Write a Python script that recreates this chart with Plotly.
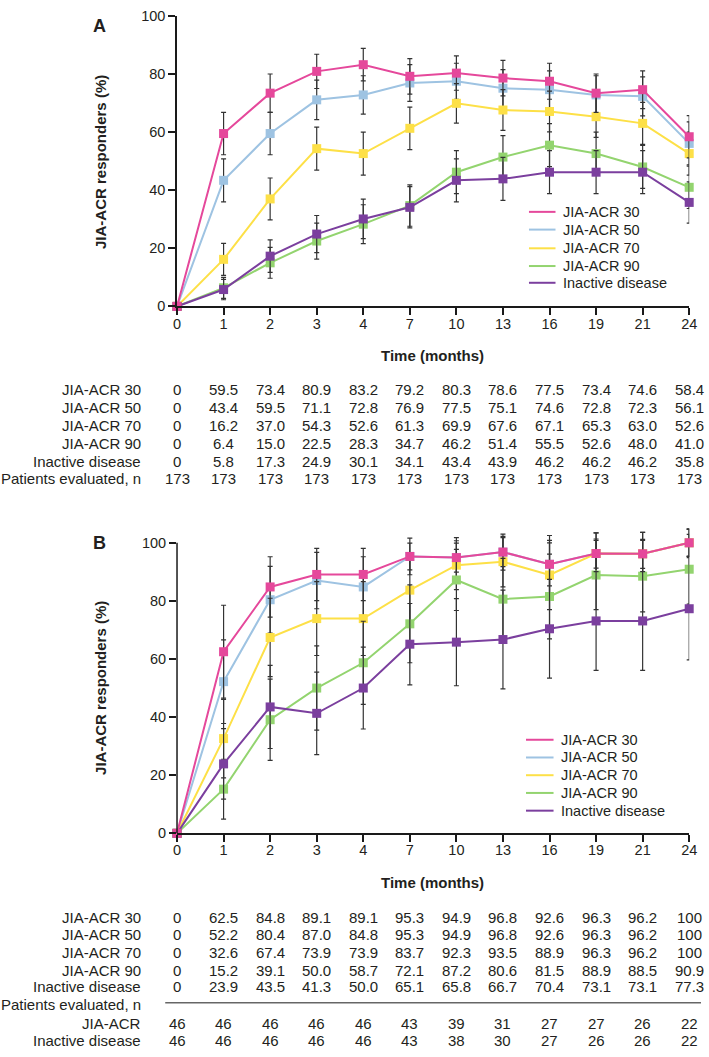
import plotly.graph_objects as go

W, H = 709, 1057

months = [0, 1, 2, 3, 4, 7, 10, 13, 16, 19, 21, 24]
series_names = ["JIA-ACR 30", "JIA-ACR 50", "JIA-ACR 70", "JIA-ACR 90", "Inactive disease"]
colors = ["#E5489B", "#9EC3E2", "#FDE047", "#93D46F", "#7B3F9E"]

# Panel A values (%)
a_acr30 = [0, 59.5, 73.4, 80.9, 83.2, 79.2, 80.3, 78.6, 77.5, 73.4, 74.6, 58.4]
a_acr50 = [0, 43.4, 59.5, 71.1, 72.8, 76.9, 77.5, 75.1, 74.6, 72.8, 72.3, 56.1]
a_acr70 = [0, 16.2, 37.0, 54.3, 52.6, 61.3, 69.9, 67.6, 67.1, 65.3, 63.0, 52.6]
a_acr90 = [0, 6.4, 15.0, 22.5, 28.3, 34.7, 46.2, 51.4, 55.5, 52.6, 48.0, 41.0]
a_inact = [0, 5.8, 17.3, 24.9, 30.1, 34.1, 43.4, 43.9, 46.2, 46.2, 46.2, 35.8]
a_n = [173, 173, 173, 173, 173, 173, 173, 173, 173, 173, 173, 173]

# Panel A error bar half-widths
a_err30 = [0, 7.3, 6.6, 5.9, 5.6, 6.1, 5.9, 6.1, 6.2, 6.6, 6.5, 7.3]
a_err50 = [0, 7.4, 7.3, 6.8, 6.6, 6.3, 6.2, 6.4, 6.5, 6.6, 6.7, 7.4]
a_err70 = [0, 5.5, 7.2, 7.4, 7.4, 7.3, 6.8, 7.0, 7.0, 7.1, 7.2, 7.4]
a_err90 = [0, 3.6, 5.3, 6.2, 6.7, 7.1, 7.4, 7.4, 7.4, 7.4, 7.4, 7.3]
a_errin = [0, 3.5, 5.6, 6.4, 6.8, 7.1, 7.4, 7.4, 7.4, 7.4, 7.4, 7.1]

# Panel B values (%)
b_acr30 = [0, 62.5, 84.8, 89.1, 89.1, 95.3, 94.9, 96.8, 92.6, 96.3, 96.2, 100]
b_acr50 = [0, 52.2, 80.4, 87.0, 84.8, 95.3, 94.9, 96.8, 92.6, 96.3, 96.2, 100]
b_acr70 = [0, 32.6, 67.4, 73.9, 73.9, 83.7, 92.3, 93.5, 88.9, 96.3, 96.2, 100]
b_acr90 = [0, 15.2, 39.1, 50.0, 58.7, 72.1, 87.2, 80.6, 81.5, 88.9, 88.5, 90.9]
b_inact = [0, 23.9, 43.5, 41.3, 50.0, 65.1, 65.8, 66.7, 70.4, 73.1, 73.1, 77.3]
b_n_acr = [46, 46, 46, 46, 46, 43, 39, 31, 27, 27, 26, 22]
b_n_inact = [46, 46, 46, 46, 46, 43, 38, 30, 27, 26, 26, 22]

# Panel B error bar half-widths
b_err30 = [0, 16.0, 10.4, 9.0, 9.0, 4.6, 5.0, 5.0, 7.4, 5.0, 5.0, 4.7]
b_err50 = [0, 14.4, 11.5, 9.7, 10.4, 6.3, 6.9, 6.2, 9.9, 7.1, 7.4, 4.7]
b_err70 = [0, 13.5, 13.5, 12.7, 12.7, 11.0, 8.4, 8.7, 11.9, 7.1, 7.4, 4.7]
b_err90 = [0, 10.3, 14.0, 14.5, 14.3, 13.4, 10.5, 14.0, 14.6, 11.9, 12.3, 12.0]
b_errin = [0, 12.1, 14.3, 14.2, 14.1, 14.0, 15.0, 17.0, 17.0, 17.0, 17.0, 17.6]

a_vals = [a_acr30, a_acr50, a_acr70, a_acr90, a_inact]
a_errs = [a_err30, a_err50, a_err70, a_err90, a_errin]
b_vals = [b_acr30, b_acr50, b_acr70, b_acr90, b_inact]
b_errs = [b_err30, b_err50, b_err70, b_err90, b_errin]

cats = [str(m) for m in months]
FONT = "Liberation Sans, Arial, sans-serif"
TXT = "#231F20"
AX = "#1a1a1a"

def py(p):
    return 1 - p / H

fig = go.Figure()

draw_order = [1, 2, 3, 4, 0]
for vals, errs, xa, ya in [(a_vals, a_errs, "x", "y"), (b_vals, b_errs, "x2", "y2")]:
    for i in draw_order:
        fig.add_trace(go.Scatter(
            x=cats, y=vals[i], xaxis=xa, yaxis=ya, name=series_names[i],
            mode="lines+markers", showlegend=False,
            line=dict(color=colors[i], width=2),
            marker=dict(symbol="square", size=9, color=colors[i]),
            error_y=dict(type="data", array=errs[i], symmetric=True,
                         color="#333333", thickness=1.2, width=2.5),
            cliponaxis=False,
        ))

x_dom = [176 / W, 697 / W]
axis_common = dict(linecolor=AX, linewidth=1.5,
                   ticks="outside", tickcolor=AX, ticklen=7, tickwidth=1.5,
                   showgrid=False, zeroline=False,
                   tickfont=dict(family=FONT, size=14.5, color=TXT))

# panel B y-range extends a little above 100 so the upper error bars are not cut;
# its axis line is drawn only from 0 to 100 (as in the original)
b_top = 106
b_px0, b_px100 = 838, 543
b_pxtop = b_px0 - (b_px0 - b_px100) * b_top / 100

fig.update_layout(
    width=W, height=H, margin=dict(l=0, r=0, t=0, b=0),
    plot_bgcolor="white", paper_bgcolor="white",
    font=dict(family=FONT, color=TXT), showlegend=False,
    xaxis=dict(domain=x_dom, anchor="y", type="category", range=[0, len(months) - 1],
               showline=True, ticklabelstandoff=-4, **axis_common),
    yaxis=dict(domain=[py(303), py(8)], anchor="x", range=[0, 100], showline=True,
               tickvals=[0, 20, 40, 60, 80, 100], **axis_common),
    xaxis2=dict(domain=x_dom, anchor="y2", type="category", range=[0, len(months) - 1],
                showline=True, ticklabelstandoff=-4, **axis_common),
    yaxis2=dict(domain=[py(b_px0), py(b_pxtop)], anchor="x2", range=[0, b_top], showline=False,
                tickvals=[0, 20, 40, 60, 80, 100], **axis_common),
)

shapes = []
ann = []

def add_text(text, x, y, xref="paper", xanchor="center", size=15, bold=False, angle=0):
    ann.append(dict(text=f"<b>{text}</b>" if bold else text, x=x, y=y, xref=xref, yref="paper",
                    xanchor=xanchor, yanchor="middle", showarrow=False, textangle=angle,
                    font=dict(family=FONT, size=size, color=TXT)))

# y axis line of panel B (0..100)
shapes.append(dict(type="line", xref="paper", yref="y2", x0=x_dom[0], x1=x_dom[0], y0=0, y1=100,
                   line=dict(color=AX, width=1.5)))

# legends (line samples + labels)
for rows_y, x0, x1, xt in [([207, 225, 244, 262, 279], 534, 561, 567),
                          ([743, 761, 779, 797, 815], 531, 559, 565)]:
    for i, name in enumerate(series_names):
        shapes.append(dict(type="line", xref="paper", yref="paper", x0=x0 / W, x1=x1 / W,
                           y0=py(rows_y[i]), y1=py(rows_y[i]),
                           line=dict(color=colors[i], width=2)))
        add_text(name, xt / W, py(rows_y[i]), xanchor="left", size=14.5)

# panel labels and titles
add_text("A", 97 / W, py(18), size=18, bold=True)
add_text("B", 97 / W, py(543), size=18, bold=True)
add_text("JIA-ACR responders (%)", 98 / W, py(156), bold=True, angle=-90)
add_text("JIA-ACR responders (%)", 98 / W, py(690), bold=True, angle=-90)
add_text("Time (months)", 436 / W, py(353), bold=True)
add_text("Time (months)", 436 / W, py(888), bold=True)

def fmt(v):
    if v == 0:
        return "0"
    if v == 100:
        return "100"
    return f"{v:.1f}"

# Table A
rows_a_y = [387, 406, 424, 442, 460]
for r, (name, vals) in enumerate(zip(series_names, a_vals)):
    add_text(name, 141 / W, py(rows_a_y[r]), xanchor="right")
    for j, v in enumerate(vals):
        add_text(fmt(v), j, py(rows_a_y[r]), xref="x")
add_text("Patients evaluated, n", 141 / W, py(478), xanchor="right")
for j, v in enumerate(a_n):
    add_text(str(v), j, py(478), xref="x")

# Table B
rows_b_y = [923, 941, 959, 977, 994]
for r, (name, vals) in enumerate(zip(series_names, b_vals)):
    add_text(name, 141 / W, py(rows_b_y[r]), xanchor="right")
    for j, v in enumerate(vals):
        add_text(fmt(v), j, py(rows_b_y[r]), xref="x2")
add_text("Patients evaluated, n", 141 / W, py(1012), xanchor="right")
add_text("JIA-ACR", 141 / W, py(1031), xanchor="right")
add_text("Inactive disease", 141 / W, py(1048), xanchor="right")
for j, v in enumerate(b_n_acr):
    add_text(str(v), j, py(1031), xref="x2")
for j, v in enumerate(b_n_inact):
    add_text(str(v), j, py(1048), xref="x2")

shapes.append(dict(type="line", xref="paper", yref="paper", x0=164 / W, x1=1.0,
                   y0=py(1010), y1=py(1010), line=dict(color="#666666", width=1.5)))

fig.update_layout(annotations=ann, shapes=shapes)

fig.write_html("out.html", config={"displayModeBar": False},
               post_script="document.body.style.margin='0px';document.body.style.overflow='hidden';")
